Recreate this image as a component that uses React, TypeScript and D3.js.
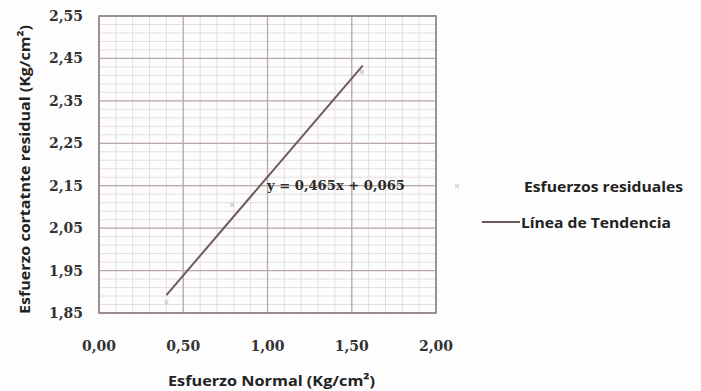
import React from "react";
import * as d3 from "d3";

const W = 701;
const H = 391;

// data
const pointsX = [0.4, 0.79, 1.56];
const pointsY = [1.875, 2.105, 2.418];
const trendX = [0.4, 1.565];
const trendY = [1.892, 2.433];
const xTicks = [0, 0.5, 1, 1.5, 2];
const yTicks = [1.85, 1.95, 2.05, 2.15, 2.25, 2.35, 2.45, 2.55];
const equationLabel = "y = 0,465x + 0,065";
const xTitle = "Esfuerzo Normal (Kg/cm²)";
const yTitle = "Esfuerzo cortatnte residual (Kg/cm²)";
const legendLabels = ["Esfuerzos residuales", "Línea de Tendencia"];

const fmt = (v: number) => v.toFixed(2).replace(".", ",");

export default function App() {
  const left = 99, right = 436, top = 16, bottom = 313;
  const x = d3.scaleLinear().domain([0, 2]).range([left, right]);
  const y = d3.scaleLinear().domain([1.85, 2.55]).range([bottom, top]);

  const xMinor = d3.range(0, 2.0001, 0.1);
  const yMinor = d3.range(1.85, 2.5501, 0.02);

  const line = d3.line<number>()
    .x((_, i) => x(trendX[i]))
    .y((_, i) => y(trendY[i]));

  const serif = "'DejaVu Serif', serif";
  const sans = "'Open Sans', 'Liberation Sans', sans-serif";

  return (
    <svg width={W} height={H} style={{ position: "absolute", left: 0, top: 0, background: "#fff" }}>
      <rect x={0} y={0} width={W} height={H} fill="#fdfdfd" />
      {/* minor grid */}
      {xMinor.map((v, i) => (
        <line key={"xm" + i} x1={x(v)} x2={x(v)} y1={top} y2={bottom} stroke="#e6dede" strokeWidth={1} />
      ))}
      {yMinor.map((v, i) => (
        <line key={"ym" + i} x1={left} x2={right} y1={y(v)} y2={y(v)} stroke="#e6dede" strokeWidth={1} />
      ))}
      {/* major grid */}
      {xTicks.map((v, i) => (
        <line key={"xM" + i} x1={x(v)} x2={x(v)} y1={top} y2={bottom} stroke="#b9aaaa" strokeWidth={1.3} />
      ))}
      {yTicks.map((v, i) => (
        <line key={"yM" + i} x1={left} x2={right} y1={y(v)} y2={y(v)} stroke="#b9aaaa" strokeWidth={1.3} />
      ))}
      <rect x={left} y={top} width={right - left} height={bottom - top} fill="none" stroke="#8f8080" strokeWidth={1.5} />

      {/* points */}
      {pointsX.map((v, i) => (
        <g key={"p" + i} stroke="#cfcaca" strokeWidth={1.2}>
          <line x1={x(v) - 2} x2={x(v) + 2} y1={y(pointsY[i]) - 2} y2={y(pointsY[i]) + 2} />
          <line x1={x(v) - 2} x2={x(v) + 2} y1={y(pointsY[i]) + 2} y2={y(pointsY[i]) - 2} />
        </g>
      ))}

      {/* trend line */}
      <path d={line(trendX) || ""} fill="none" stroke="#6e5a5a" strokeWidth={2} />

      {/* equation */}
      <text x={267} y={190} fontFamily={serif} fontWeight="bold" fontSize={13.5} textLength={138} lengthAdjust="spacingAndGlyphs" fill="#2a2a2a">{equationLabel}</text>

      {/* y tick labels */}
      {yTicks.map((v, i) => (
        <text key={"yl" + i} x={83} y={y(v) + 5} textAnchor="end" fontFamily={serif} fontSize={14} fontWeight="bold" fill="#333">{fmt(v)}</text>
      ))}
      {/* x tick labels */}
      {xTicks.map((v, i) => (
        <text key={"xl" + i} x={x(v)} y={351} textAnchor="middle" fontFamily={serif} fontSize={14} fontWeight="bold" fill="#333">{fmt(v)}</text>
      ))}

      {/* axis titles */}
      <text x={168} y={386} fontFamily={sans} fontWeight="bold" fontSize={15} textLength={207} lengthAdjust="spacingAndGlyphs" fill="#222">{xTitle}</text>
      <text transform={`translate(30,314) rotate(-90)`} fontFamily={sans} fontWeight="bold" fontSize={15} textLength={289} lengthAdjust="spacingAndGlyphs" fill="#222">{yTitle}</text>

      {/* legend */}
      <g stroke="#d6d0d0" strokeWidth={1.2}>
        <line x1={455} x2={459} y1={184} y2={188} />
        <line x1={455} x2={459} y1={188} y2={184} />
      </g>
      <text x={524} y={192} fontFamily={sans} fontWeight="bold" fontSize={15} textLength={159} lengthAdjust="spacingAndGlyphs" fill="#222">{legendLabels[0]}</text>
      <line x1={482} x2={520} y1={222} y2={222} stroke="#6e5a5a" strokeWidth={2} />
      <text x={521} y={228} fontFamily={sans} fontWeight="bold" fontSize={15} textLength={150} lengthAdjust="spacingAndGlyphs" fill="#222">{legendLabels[1]}</text>
    </svg>
  );
}
